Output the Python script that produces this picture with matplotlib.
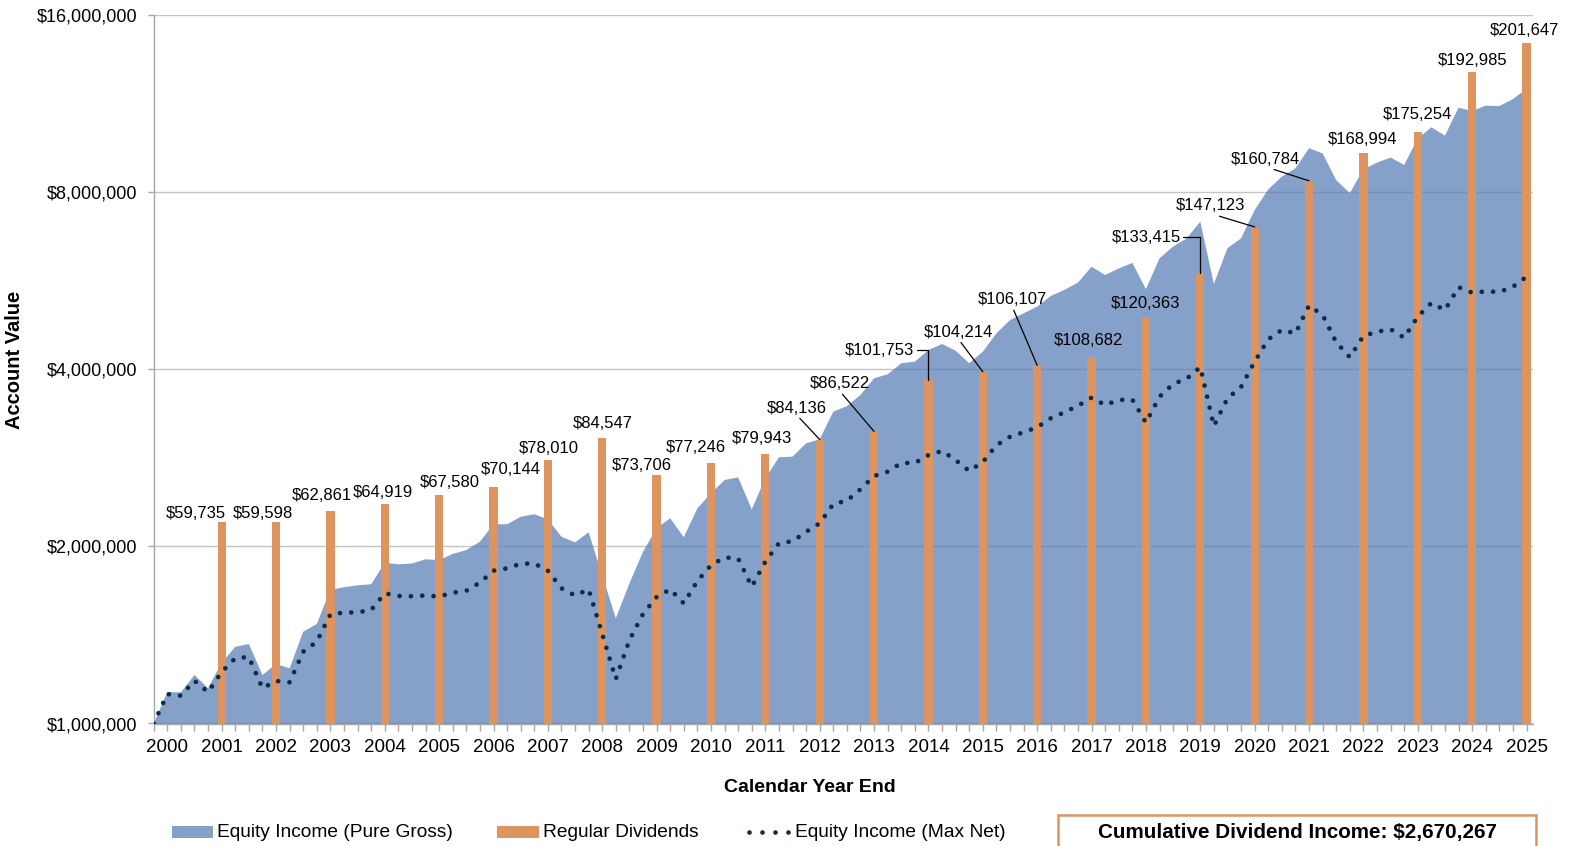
import matplotlib
matplotlib.use("Agg")
import matplotlib.pyplot as plt
import numpy as np
from matplotlib.lines import Line2D
from matplotlib.patches import Rectangle
from matplotlib.ticker import FixedLocator, FuncFormatter, NullLocator

# quarterly account values in $M; index 0 = starting value, then one point per quarter
gross_m = [
    1.00, 1.13, 1.13, 1.209, 1.148, 1.268, 1.35, 1.365, 1.209, 1.262,
    1.241, 1.432, 1.476, 1.686, 1.704, 1.717, 1.724, 1.874, 1.864, 1.87,
    1.901, 1.895, 1.941, 1.971, 2.036, 2.18, 2.18, 2.245, 2.267, 2.223,
    2.076, 2.031, 2.113, 1.786, 1.509, 1.73, 1.958, 2.146, 2.232, 2.072,
    2.32, 2.461, 2.592, 2.619, 2.311, 2.61, 2.833, 2.84, 2.992, 3.04,
    3.387, 3.46, 3.615, 3.859, 3.92, 4.092, 4.118, 4.31, 4.413, 4.299,
    4.092, 4.282, 4.60, 4.846, 4.975, 5.107, 5.325, 5.452, 5.61, 5.97,
    5.78, 5.93, 6.06, 5.47, 6.17, 6.46, 6.67, 7.12, 5.58, 6.42,
    6.67, 7.45, 8.08, 8.49, 8.77, 9.49, 9.30, 8.38, 7.96, 8.74,
    8.97, 9.15, 8.89, 9.86, 10.30, 9.97, 11.12, 10.98, 11.21, 11.19,
    11.50, 11.97,
]
maxnet_m = [
    1.00, 1.122, 1.115, 1.182, 1.131, 1.223, 1.291, 1.297, 1.148, 1.181,
    1.175, 1.324, 1.377, 1.533, 1.543, 1.545, 1.559, 1.664, 1.647, 1.645,
    1.650, 1.643, 1.668, 1.681, 1.735, 1.818, 1.835, 1.868, 1.87, 1.818,
    1.697, 1.650, 1.69, 1.419, 1.19, 1.386, 1.535, 1.64, 1.69, 1.60,
    1.746, 1.857, 1.915, 1.907, 1.708, 1.883, 2.024, 2.04, 2.117, 2.188,
    2.36, 2.39, 2.50, 2.633, 2.678, 2.771, 2.77, 2.858, 2.904, 2.803,
    2.685, 2.781, 2.969, 3.07, 3.124, 3.186, 3.30, 3.378, 3.466, 3.577,
    3.476, 3.545, 3.55, 3.244, 3.59, 3.774, 3.853, 4.03, 3.202, 3.568,
    3.73, 4.118, 4.495, 4.662, 4.60, 5.13, 4.943, 4.442, 4.19, 4.553,
    4.63, 4.675, 4.523, 4.911, 5.18, 5.04, 5.51, 5.393, 5.42, 5.41,
    5.52, 5.74,
]
label_years = list(range(2000, 2026))
div_years = list(range(2001, 2026))
dividends = [
    59735, 59598, 62861, 64919, 67580, 70144, 78010, 84547, 73706, 77246,
    79943, 84136, 86522, 101753, 104214, 106107, 108682, 120363, 133415, 147123,
    160784, 168994, 175254, 192985, 201647,
]
y_ticks = [1e6, 2e6, 4e6, 8e6, 16e6]
total_text = "Cumulative Dividend Income: $2,670,267"
series_names = ["Equity Income (Pure Gross)", "Regular Dividends", "Equity Income (Max Net)"]

# label placement (pixels from bar top) and leader type, layout only
label_dx = [-26, -13.6, -8.8, -2, 11, 17.2, 1.2, 0.6, -14.6, -15,
            -3.4, -22.5, -34, -48.7, -23.9, -24.6, -3.1, -0.8, -54.4, -44.4,
            -43.6, -0.5, -0.2, 0, -2]
label_dy = [8.7, 9, 16.3, 11.4, 12.7, 16.8, 11.9, 14.2, 9.7, 15.1,
            14.7, 31.5, 47.5, 30, 39.5, 65.4, 15.7, 13.3, 35.9, 21,
            21.6, 13.9, 17, 11.3, 12.7]
leader = ["", "", "", "", "", "", "", "", "", "",
          "", "line", "line", "elbow", "line", "line", "", "", "elbow", "line",
          "line", "", "", "", ""]

AREA = (88 / 255, 125 / 255, 181 / 255)
AREA_ALPHA = 0.73
ORANGE = "#DE945E"
NAVY = "#0C2D44"
GRID = "#C4C4C4"
SPINE = "#A6A6A6"
FONT = "Liberation Sans"

plt.rcParams["font.family"] = [FONT, "DejaVu Sans"]

W, H = 1570, 846


def fx(x):
    return x / W


def fy(y):
    return 1 - y / H


fig = plt.figure(figsize=(W / 100, H / 100), dpi=100)
ax = fig.add_axes([fx(153.7), fy(723.5), (1533.3 - 153.7) / W, (723.5 - 14.7) / H])

q = np.arange(len(gross_m))
gross = np.array(gross_m) * 1e6
net = np.array(maxnet_m) * 1e6
bar_x = [1 + 4 * (y - 2000) for y in div_years]
tick_pos = [1 + 4 * (y - 2000) for y in label_years]

ax.fill_between(q, 1e5, gross, color=AREA, alpha=AREA_ALPHA, lw=0, zorder=1)
ax.set_yscale("log", base=2)
ax.set_ylim(1e6, 16e6)
ax.set_xlim(0, 101.5)
ax.yaxis.set_major_locator(FixedLocator(y_ticks))
ax.yaxis.set_minor_locator(NullLocator())
ax.yaxis.set_major_formatter(FuncFormatter(lambda v, p: f"${v:,.0f}"))
ax.yaxis.grid(True, color=GRID, lw=1)
ax.set_axisbelow(True)

labels_at = dict(zip(tick_pos, label_years))
ax.xaxis.set_major_locator(FixedLocator(q))
ax.xaxis.set_major_formatter(FuncFormatter(lambda v, p: str(labels_at.get(int(round(v)), ""))))
ax.tick_params(axis="x", length=5, width=1, color=SPINE, labelsize=13.5, pad=6.5)
ax.tick_params(axis="y", length=4, width=1, color=SPINE, labelsize=13, pad=8)
for s in ("top", "right"):
    ax.spines[s].set_visible(False)
for s in ("left", "bottom"):
    ax.spines[s].set_color(SPINE)
    ax.spines[s].set_linewidth(1)

# dividends on a hidden linear axis
ax2 = ax.twinx()
ax2.set_ylim(0, 210000)
ax2.set_axis_off()
ax2.bar(bar_x, dividends, width=0.61, color=ORANGE, zorder=2)

for x, v, dx, dy, kind in zip(bar_x, dividends, label_dx, label_dy, leader):
    kw = {}
    if kind == "line":
        kw["arrowprops"] = dict(arrowstyle="-", color="black", lw=0.9,
                                relpos=(0.5, 0.0), shrinkA=0, shrinkB=0)
    elif kind == "elbow":
        kw["arrowprops"] = dict(arrowstyle="-", color="black", lw=0.9,
                                relpos=(1.0, 0.5), shrinkA=0, shrinkB=0,
                                connectionstyle="angle,angleA=0,angleB=90,rad=0")
    ax2.annotate(f"${v:,}", xy=(x, v), xytext=(dx, dy), textcoords="offset pixels",
                 ha="center", va="center", fontsize=12, color="black", **kw)

# max-net dotted line on top
ax3 = ax.twinx()
ax3.set_yscale("log", base=2)
ax3.set_ylim(1e6, 16e6)
ax3.set_axis_off()
ax3.plot(q, net, color=NAVY, lw=3.4, linestyle=(0, (0.001, 2.4)),
         dash_capstyle="round", solid_capstyle="round")

# axis titles
fig.text(fx(15), fy(360), "Account Value", rotation=90, ha="center", va="center",
         fontsize=14.5, weight="bold")
fig.text(fx(810), fy(787), "Calendar Year End", ha="center", va="center",
         fontsize=14, weight="bold")

# legend row drawn by hand
leg_size = 13.8
fig.add_artist(Rectangle((fx(172), fy(838)), 41 / W, 12 / H, transform=fig.transFigure,
                         facecolor=AREA, alpha=AREA_ALPHA, lw=0))
fig.text(fx(217), fy(832), series_names[0], ha="left", va="center", fontsize=leg_size)
fig.add_artist(Rectangle((fx(497), fy(838)), 42 / W, 12 / H, transform=fig.transFigure,
                         facecolor=ORANGE, lw=0))
fig.text(fx(543), fy(832), series_names[1], ha="left", va="center", fontsize=leg_size)
fig.add_artist(Line2D([fx(749), fx(788)], [fy(832), fy(832)], transform=fig.transFigure,
                      color=NAVY, lw=3.4, linestyle=(0, (0.001, 2.75)), dash_capstyle="round"))
fig.text(fx(795), fy(832), series_names[2], ha="left", va="center", fontsize=leg_size)

fig.add_artist(Rectangle((fx(1058), fy(880)), (1536 - 1058) / W, (880 - 815) / H,
                         transform=fig.transFigure, fill=False, edgecolor=ORANGE, lw=1.8))
fig.text(fx(1297), fy(832), total_text, ha="center", va="center",
         fontsize=14.9, weight="bold")

fig.savefig("out.png", dpi=100)
